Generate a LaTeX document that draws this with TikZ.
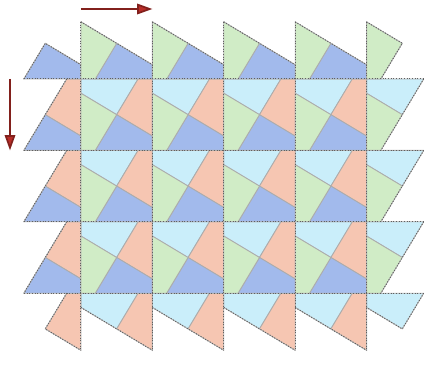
\documentclass[tikz,border=0pt]{standalone}
\usepackage{tikz}
\usetikzlibrary{arrows.meta}

\definecolor{tileblue}{RGB}{162,186,236}
\definecolor{tilegreen}{RGB}{208,236,198}
\definecolor{tilecyan}{RGB}{202,238,250}
\definecolor{tilepeach}{RGB}{246,198,178}
\definecolor{arrowred}{RGB}{185,45,40}

\begin{document}
\begin{tikzpicture}[
                x=1.5cm, y=-1.5cm,
                piece/.style={draw=gray!65, line width=0.5pt},
                gridline/.style={gray!75!black, densely dotted, line width=0.6pt},
                shiftarrow/.style={arrowred!70!black, line width=1pt, -{Triangle[length=3.2mm, width=2.2mm, fill=arrowred]}}
            ]
            \useasboundingbox (-1.134,-1.106) rectangle (4.804,3.992);

            % four pieces of every square
            \foreach \i in {0,...,4} \foreach \j in {0,...,3}
                \filldraw[piece, fill=tilecyan, shift={(\i,\j)}] (0,0) -- (0.8,0) -- (0.5,0.5) -- (0,0.2) -- cycle;
            \foreach \i in {-1,...,3} \foreach \j in {0,...,3}
                \filldraw[piece, fill=tilepeach, shift={(\i,\j)}] (0.8,0) -- (1,0) -- (1,0.8) -- (0.5,0.5) -- cycle;
            \foreach \i in {-1,...,3} \foreach \j in {-1,...,2}
                \filldraw[piece, fill=tileblue, shift={(\i,\j)}] (1,0.8) -- (1,1) -- (0.2,1) -- (0.5,0.5) -- cycle;
            \foreach \i in {0,...,4} \foreach \j in {-1,...,2}
                \filldraw[piece, fill=tilegreen, shift={(\i,\j)}] (0.2,1) -- (0,1) -- (0,0.2) -- (0.5,0.5) -- cycle;

            % square grid
            \foreach \i in {0,...,4}
                \draw[gridline] (\i,-0.8) -- (\i,3.8);
            \foreach \j in {0,...,3}
                \draw[gridline] (-0.8,\j) -- (4.8,\j);

            % outline
            \foreach \i in {0,...,3} {
                \draw[gridline] (\i,-0.8) -- (\i+1,-0.2);
                \draw[gridline] (\i,3.2) -- (\i+1,3.8);
            }
            \foreach \j in {0,...,2} {
                \draw[gridline] (-0.2,\j) -- (-0.8,\j+1);
                \draw[gridline] (4.8,\j) -- (4.2,\j+1);
            }
            \draw[gridline] (-0.8,0) -- (-0.5,-0.5) -- (0,-0.2);
            \draw[gridline] (4,-0.8) -- (4.5,-0.5) -- (4.2,0);
            \draw[gridline] (-0.2,3) -- (-0.5,3.5) -- (0,3.8);
            \draw[gridline] (4.8,3) -- (4.5,3.5) -- (4,3.2);

            % translations
            \coordinate (h0) at (0,-0.98);
            \coordinate (h1) at (1,-0.98);
            \coordinate (v0) at (-0.994,0);
            \coordinate (v1) at (-0.994,1);
            \draw[shiftarrow] (h0) -- (h1);
            \draw[shiftarrow] (v0) -- (v1);
            \end{tikzpicture}
\end{document}
